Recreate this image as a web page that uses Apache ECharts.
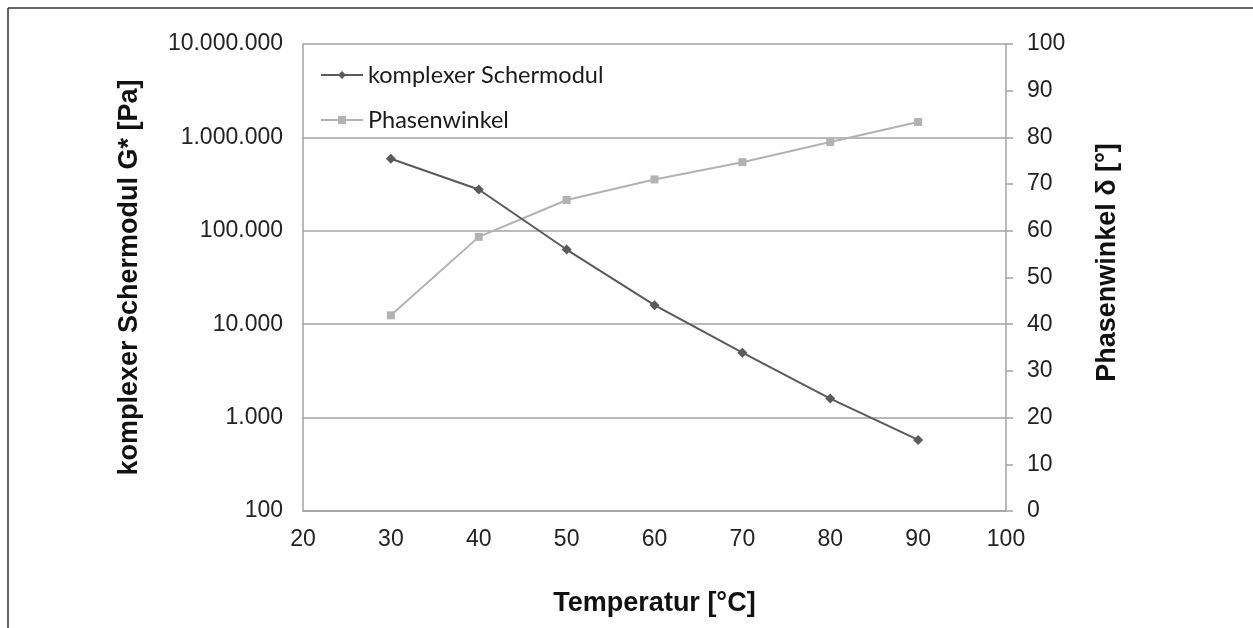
<!DOCTYPE html>
<html>
<head>
<meta charset="utf-8">
<title>Schermodul und Phasenwinkel</title>
<script src="https://cdn.jsdelivr.net/npm/echarts@6/dist/echarts.min.js"></script>
<style>
  html, body { margin: 0; padding: 0; background: #ffffff; }
  #chart { width: 1253px; height: 628px; }
</style>
</head>
<body>
<div id="chart"></div>
<script>
// Temperaturen der Messpunkte [°C]
const temperatures = [30, 40, 50, 60, 70, 80, 90];
// komplexer Schermodul G* [Pa]
const shearModulus = [590000, 277000, 63000, 16000, 4950, 1600, 577];
// Phasenwinkel δ [°]
const phaseAngle = [41.9, 58.7, 66.6, 71.0, 74.7, 79.0, 83.3];

const seriesNames = ['komplexer Schermodul', 'Phasenwinkel'];
const axisTitles = {
  x: 'Temperatur [°C]',
  left: 'komplexer Schermodul G* [Pa]',
  right: 'Phasenwinkel δ [°]'
};

const tickFont = 'Liberation Sans, Arial, sans-serif';
const gridColor = '#a3a3a3';

// Tausendertrennzeichen mit Punkt
function withDots(v) {
  return String(Math.round(v)).replace(/\B(?=(\d{3})+(?!\d))/g, '.');
}

const chart = echarts.init(document.getElementById('chart'), null, { renderer: 'canvas' });

chart.setOption({
  backgroundColor: '#ffffff',
  animation: false,
  graphic: [
    { type: 'line', shape: { x1: 8, y1: 8, x2: 1253, y2: 8 }, style: { stroke: '#333', lineWidth: 1.5 } },
    { type: 'line', shape: { x1: 8, y1: 8, x2: 8, y2: 628 }, style: { stroke: '#333', lineWidth: 1.5 } }
  ],
  grid: { left: 303, right: 247, top: 44, bottom: 117, containLabel: false },
  legend: {
    orient: 'vertical',
    left: 315,
    top: 58,
    itemWidth: 42,
    itemHeight: 10,
    itemGap: 21,
    textStyle: { fontFamily: 'Lato, sans-serif', fontSize: 23.5, lineHeight: 24, color: '#1a1a1a' },
    data: seriesNames
  },
  xAxis: {
    type: 'value',
    min: 20,
    max: 100,
    interval: 10,
    name: axisTitles.x,
    nameLocation: 'middle',
    nameGap: 79,
    nameTextStyle: { fontFamily: tickFont, fontSize: 27, fontWeight: 'bold', color: '#111' },
    axisLine: { show: true, lineStyle: { color: gridColor, width: 1.5 } },
    axisTick: { show: false },
    splitLine: { show: false },
    axisLabel: { fontFamily: tickFont, fontSize: 23, color: '#222', margin: 17 }
  },
  yAxis: [
    {
      type: 'log',
      logBase: 10,
      min: 100,
      max: 10000000,
      name: axisTitles.left,
      nameLocation: 'middle',
      nameRotate: 90,
      nameGap: 160,
      nameTextStyle: { fontFamily: tickFont, fontSize: 27, fontWeight: 'bold', color: '#111' },
      axisLine: { show: true, lineStyle: { color: gridColor, width: 1.5 } },
      axisTick: { show: false },
      minorTick: { show: false },
      splitLine: { show: true, lineStyle: { color: gridColor, width: 1.5 } },
      axisLabel: { fontFamily: tickFont, fontSize: 23, color: '#222', margin: 20, padding: [5, 0, 0, 0], formatter: withDots }
    },
    {
      type: 'value',
      min: 0,
      max: 100,
      interval: 10,
      position: 'right',
      name: axisTitles.right,
      nameLocation: 'middle',
      nameRotate: 90,
      nameGap: 88,
      nameTextStyle: { fontFamily: tickFont, fontSize: 27, fontWeight: 'bold', color: '#111', padding: [0, 0, 0, 30] },
      axisLine: { show: true, lineStyle: { color: gridColor, width: 1.5 } },
      axisTick: { show: true, inside: false, length: 7, lineStyle: { color: gridColor, width: 1.5 } },
      splitLine: { show: false },
      axisLabel: { fontFamily: tickFont, fontSize: 23, color: '#222', margin: 21, padding: [5, 0, 0, 0] }
    }
  ],
  series: [
    {
      name: seriesNames[0],
      type: 'line',
      yAxisIndex: 0,
      data: temperatures.map((t, i) => [t, shearModulus[i]]),
      symbol: 'diamond',
      symbolSize: 10,
      color: '#5a5a5a',
      lineStyle: { color: '#5a5a5a', width: 2 },
      itemStyle: { color: '#5a5a5a' },
      z: 3
    },
    {
      name: seriesNames[1],
      type: 'line',
      yAxisIndex: 1,
      data: temperatures.map((t, i) => [t, phaseAngle[i]]),
      symbol: 'rect',
      symbolSize: 8,
      color: '#b2b2b2',
      lineStyle: { color: '#b2b2b2', width: 2 },
      itemStyle: { color: '#b2b2b2' },
      z: 2
    }
  ]
});
</script>
</body>
</html>
